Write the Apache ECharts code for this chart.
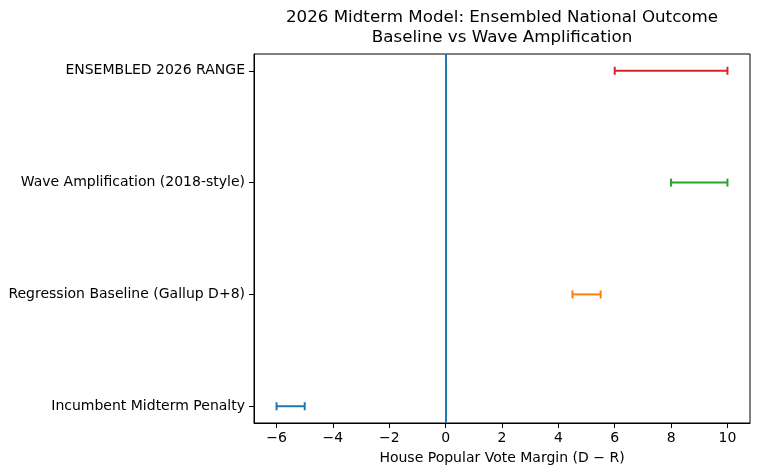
<!DOCTYPE html>
<html>
<head>
<meta charset="utf-8">
<script src="https://cdn.jsdelivr.net/npm/echarts@6/dist/echarts.min.js"></script>
<style>html,body{margin:0;padding:0;background:#fff;}#c{width:760px;height:476px;}</style>
</head>
<body>
<div id="c"></div>
<script>
const categories = ["Incumbent Midterm Penalty", "Regression Baseline (Gallup D+8)", "Wave Amplification (2018-style)", "ENSEMBLED 2026 RANGE"];
const lows = [-6, 4.5, 8, 6];
const highs = [-5, 5.5, 10, 10];
const colors = ["#1f77b4", "#ff7f0e", "#2ca02c", "#d62728"];
const xTicks = [-6, -4, -2, 0, 2, 4, 6, 8, 10];
const refLine = 0;

const FONT = "DejaVu Sans";
const chart = echarts.init(document.getElementById('c'), null, {renderer: 'canvas'});
const data = categories.map((c, i) => [lows[i], highs[i], i]);

chart.setOption({
  animation: false,
  backgroundColor: '#fff',
  graphic: [
    {type: 'text', x: 502, y: 18, style: {text: '2026 Midterm Model: Ensembled National Outcome', textAlign: 'center', textVerticalAlign: 'middle', fontFamily: FONT, fontSize: 16.7, fill: '#000'}},
    {type: 'text', x: 502, y: 38, style: {text: 'Baseline vs Wave Amplification', textAlign: 'center', textVerticalAlign: 'middle', fontFamily: FONT, fontSize: 16.7, fill: '#000'}}
  ],
  grid: {left: 254, right: 10, top: 54, bottom: 53, show: true, borderColor: '#000', borderWidth: 1, backgroundColor: 'transparent'},
  xAxis: {
    type: 'value', min: -6.8, max: 10.8,
    splitLine: {show: false},
    axisLine: {show: true, onZero: false, lineStyle: {color: '#000', width: 1}},
    axisTick: {show: true, customValues: xTicks, length: 5, lineStyle: {color: '#000'}},
    axisLabel: {customValues: xTicks, margin: 8, fontFamily: FONT, fontSize: 14, color: '#000',
      formatter: v => (v < 0 ? '\u2212' + Math.abs(v) : String(v))},
    name: 'House Popular Vote Margin (D \u2212 R)', nameLocation: 'middle', nameGap: 28,
    nameTextStyle: {fontFamily: FONT, fontSize: 14, color: '#000'}
  },
  yAxis: {
    type: 'value', min: -0.15, max: 3.15,
    splitLine: {show: false},
    axisLine: {show: true, onZero: false, lineStyle: {color: '#000', width: 1}},
    axisTick: {show: true, customValues: [0, 1, 2, 3], length: 5, lineStyle: {color: '#000'}},
    axisLabel: {customValues: [0, 1, 2, 3], margin: 9, fontFamily: FONT, fontSize: 14, color: '#000',
      formatter: v => categories[Math.round(v)]}
  },
  series: [
    {
      type: 'custom',
      data: data,
      encode: {x: [0, 1], y: 2},
      renderItem: function (params, api) {
        const lo = api.coord([api.value(0), api.value(2)]);
        const hi = api.coord([api.value(1), api.value(2)]);
        const col = colors[api.value(2)];
        const cap = 4;
        const st = {stroke: col, lineWidth: 2};
        return {type: 'group', children: [
          {type: 'line', shape: {x1: lo[0], y1: lo[1], x2: hi[0], y2: hi[1]}, style: st},
          {type: 'line', shape: {x1: lo[0], y1: lo[1] - cap, x2: lo[0], y2: lo[1] + cap}, style: st},
          {type: 'line', shape: {x1: hi[0], y1: hi[1] - cap, x2: hi[0], y2: hi[1] + cap}, style: st}
        ]};
      },
      markLine: {
        silent: true, symbol: 'none', label: {show: false},
        lineStyle: {color: '#1f77b4', width: 2, type: 'solid'},
        data: [{xAxis: refLine}]
      }
    }
  ]
});
</script>
</body>
</html>
